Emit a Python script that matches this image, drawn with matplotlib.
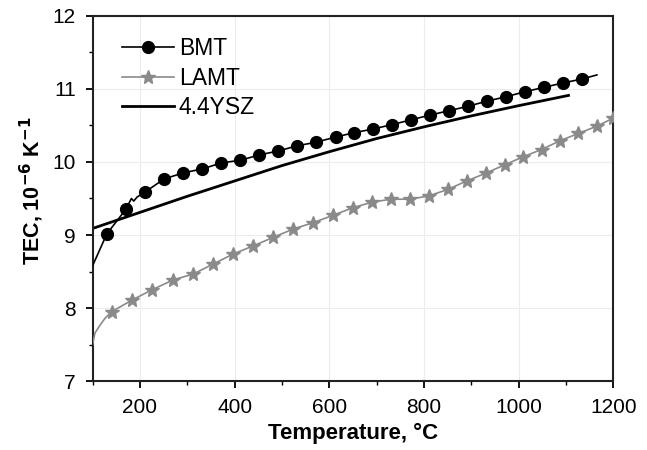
"""TEC vs temperature for BMT, LAMT and 4.4YSZ"""

import matplotlib
matplotlib.use("Agg")
import matplotlib.pyplot as plt

plt.rcParams["font.family"] = ["Liberation Sans", "DejaVu Sans"]

# BMT curve (line points) and which of them carry a marker
bmt_T = [100, 130, 170, 182, 187, 194, 210, 251, 291, 332, 372, 412, 452, 492,
         532, 572, 613, 652, 692, 732, 772, 812, 852, 892, 932, 972, 1013,
         1053, 1093, 1134, 1165]
bmt_tec = [8.58, 9.015, 9.35, 9.50, 9.465, 9.52, 9.585, 9.767, 9.85, 9.905,
           9.987, 10.023, 10.096, 10.15, 10.22, 10.27, 10.34, 10.40, 10.45,
           10.51, 10.575, 10.64, 10.70, 10.76, 10.83, 10.89, 10.96, 11.02,
           11.08, 11.135, 11.19]
bmt_marks = [1, 2] + list(range(6, 30))

# LAMT curve
lamt_T = [100, 105, 116, 126, 140, 183, 225, 270, 313, 355, 397, 439, 482,
          524, 566, 608, 650, 690, 730, 770, 810, 851, 890, 930, 970, 1009,
          1048, 1087, 1126, 1165, 1200]
lamt_tec = [7.50, 7.66, 7.77, 7.86, 7.95, 8.11, 8.25, 8.386, 8.468, 8.605,
            8.741, 8.851, 8.97, 9.083, 9.17, 9.27, 9.375, 9.45, 9.49, 9.49,
            9.535, 9.626, 9.74, 9.845, 9.96, 10.07, 10.17, 10.29, 10.39,
            10.49, 10.60]
lamt_marks = list(range(4, 31))

# 4.4YSZ curve
ysz_T = [100, 200, 300, 400, 500, 600, 700, 800, 900, 1000, 1105]
ysz_tec = [9.09, 9.31, 9.53, 9.74, 9.95, 10.14, 10.32, 10.48, 10.63, 10.77, 10.91]

fig = plt.figure(figsize=(6.47, 4.5), dpi=100)
ax = fig.add_axes([0.1431, 0.1527, 0.8051, 0.8124])

ax.plot(bmt_T, bmt_tec, color="black", lw=1.2, marker="o", ms=8.5,
        markevery=bmt_marks, label="BMT", zorder=3)
ax.plot(lamt_T, lamt_tec, color="#8a8a8a", lw=1.2, marker="*", ms=10.5,
        markevery=lamt_marks, label="LAMT", zorder=3)
ax.plot(ysz_T, ysz_tec, color="black", lw=2.0, label="4.4YSZ", zorder=2)

ax.set_xlim(100, 1200)
ax.set_ylim(7, 12)
ax.set_xticks([200, 400, 600, 800, 1000, 1200])
ax.set_xticks([100, 300, 500, 700, 900, 1100], minor=True)
ax.set_yticks([7, 8, 9, 10, 11, 12])
ax.set_yticks([7.5, 8.5, 9.5, 10.5, 11.5], minor=True)
ax.tick_params(axis="both", which="major", direction="out", length=5,
               width=1.3, labelsize=15, pad=7, top=False, right=False)
ax.tick_params(axis="both", which="minor", direction="out", length=3,
               width=1.0, top=False, right=False)
ax.grid(True, which="major", color="#ececec", lw=0.8)
ax.set_axisbelow(True)
for s in ax.spines.values():
    s.set_linewidth(1.5)
    s.set_color("#222222")

ax.set_xlabel("Temperature, \u00b0C", fontsize=16, fontweight="bold", labelpad=4)
ax.set_ylabel("TEC, 10$^{\\mathbf{-6}}$ K$^{\\mathbf{-1}}$", fontsize=15.5,
              fontweight="bold")
ax.yaxis.set_label_coords(-0.09, 0.52)

ax.legend(loc="upper left", frameon=False, fontsize=16.5, handlelength=2.3,
          handletextpad=0.2, labelspacing=0.28, borderaxespad=0.3,
          bbox_to_anchor=(0.025, 0.985))

fig.savefig("out.png", dpi=100)
